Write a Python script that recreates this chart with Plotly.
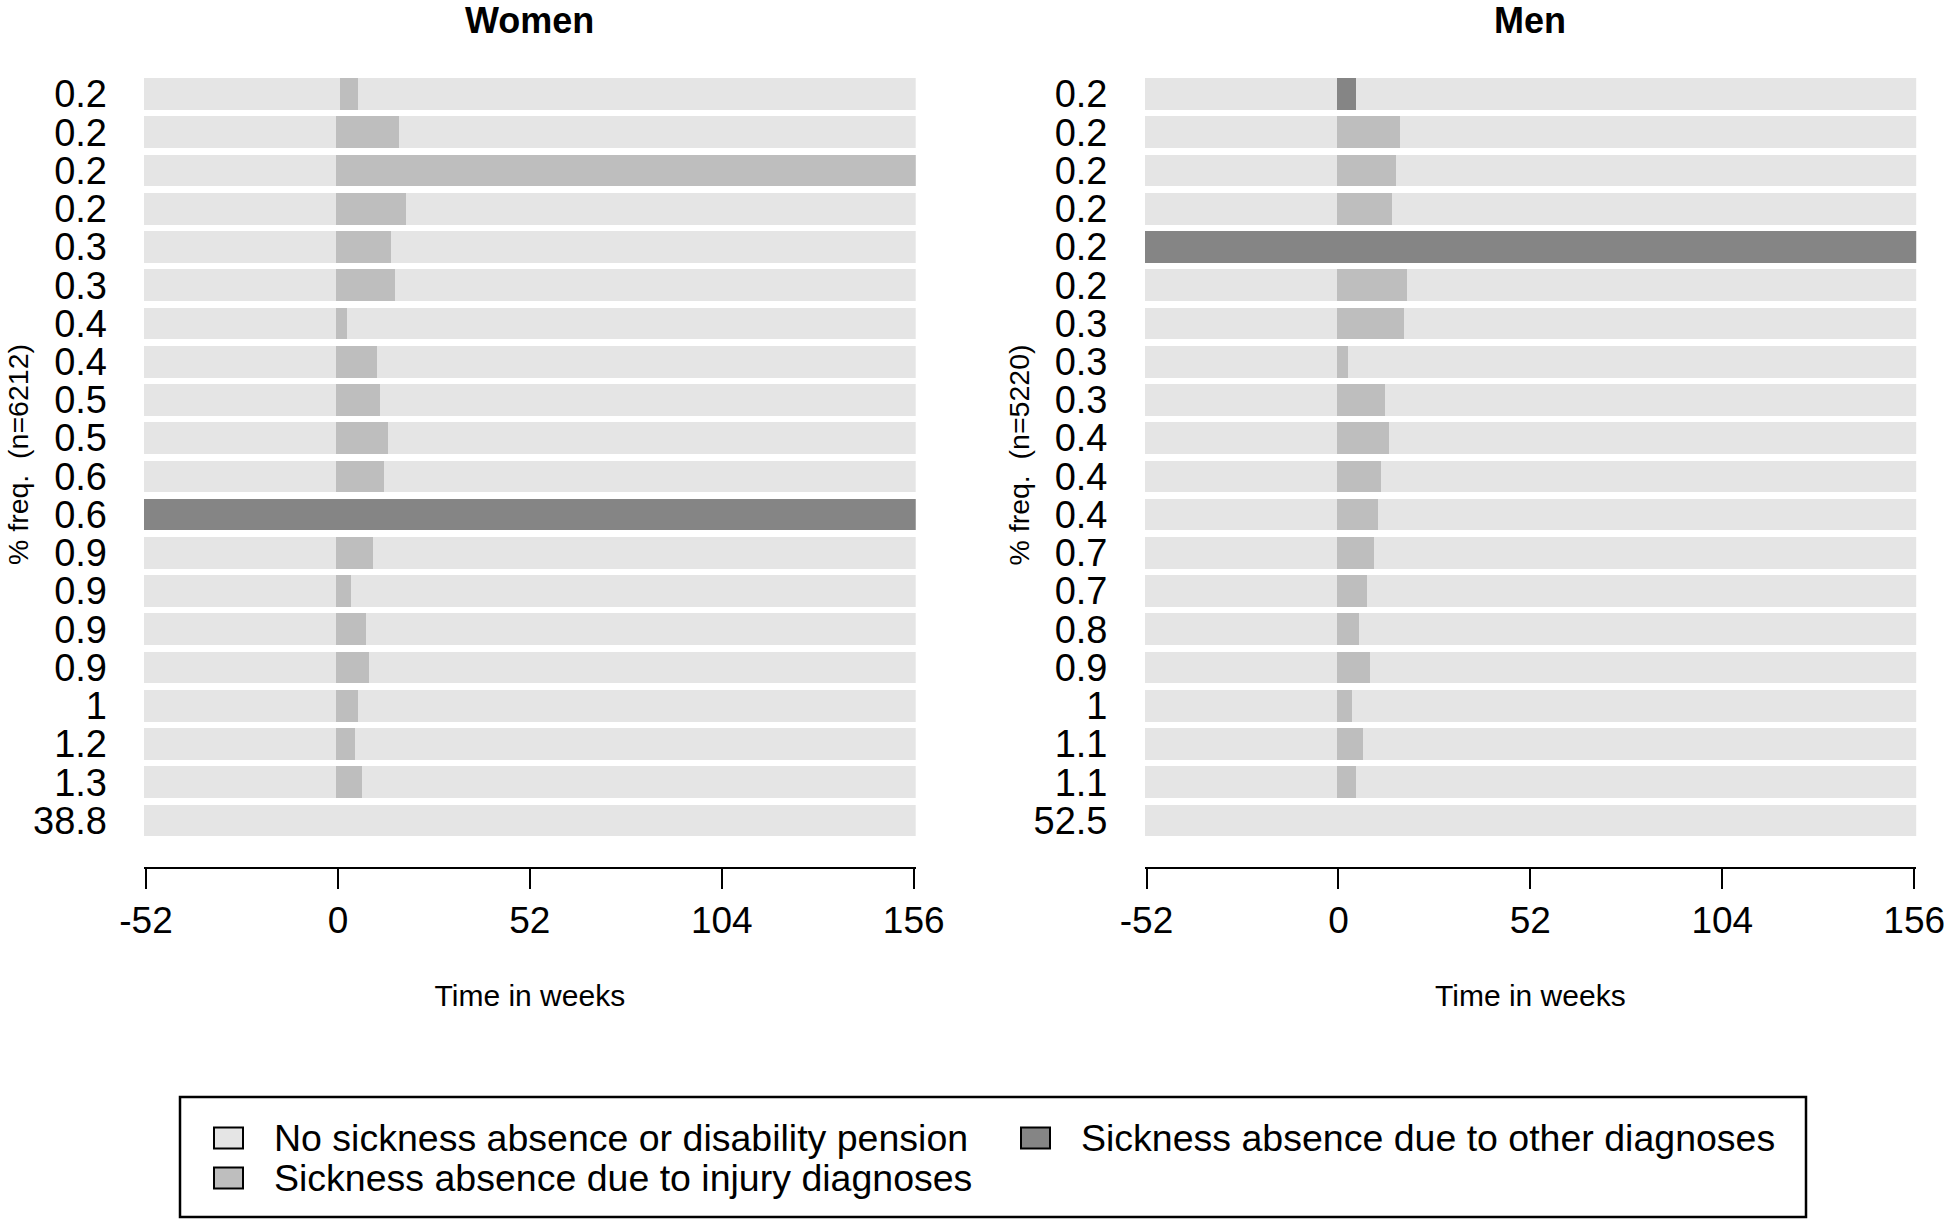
import plotly.graph_objects as go

# ---------------- data ----------------
weeks_first = -52
weeks_last = 156
x_tick_values = [-52, 0, 52, 104, 156]

state_names = [
    "No sickness absence or disability pension",
    "Sickness absence due to injury diagnoses",
    "Sickness absence due to other diagnoses",
]
state_colors = ["#E5E5E5", "#BEBEBE", "#858585"]

# Women (n=6212): sequence frequency (%) and spells (first week, last week)
women_n = 6212
women_freq = ["0.2", "0.2", "0.2", "0.2", "0.3", "0.3", "0.4", "0.4", "0.5", "0.5",
              "0.6", "0.6", "0.9", "0.9", "0.9", "0.9", "1", "1.2", "1.3", "38.8"]
women_injury_start = [1, 0, 0, 0, 0, 0, 0, 0, 0, 0,
                      0, None, 0, 0, 0, 0, 0, 0, 0, None]
women_injury_end = [5, 16, 156, 18, 14, 15, 2, 10, 11, 13,
                    12, None, 9, 3, 7, 8, 5, 4, 6, None]
women_other_start = [None, None, None, None, None, None, None, None, None, None,
                     None, -52, None, None, None, None, None, None, None, None]
women_other_end = [None, None, None, None, None, None, None, None, None, None,
                   None, 156, None, None, None, None, None, None, None, None]

# Men (n=5220)
men_n = 5220
men_freq = ["0.2", "0.2", "0.2", "0.2", "0.2", "0.2", "0.3", "0.3", "0.3", "0.4",
            "0.4", "0.4", "0.7", "0.7", "0.8", "0.9", "1", "1.1", "1.1", "52.5"]
men_injury_start = [None, 0, 0, 0, None, 0, 0, 0, 0, 0,
                    0, 0, 0, 0, 0, 0, 0, 0, 0, None]
men_injury_end = [None, 16, 15, 14, None, 18, 17, 2, 12, 13,
                  11, 10, 9, 7, 5, 8, 3, 6, 4, None]
men_other_start = [0, None, None, None, -52, None, None, None, None, None,
                   None, None, None, None, None, None, None, None, None, None]
men_other_end = [4, None, None, None, 156, None, None, None, None, None,
                 None, None, None, None, None, None, None, None, None, None]

# ---------------- layout constants (pixels) ----------------
W, H = 1944, 1222
FONT = "Liberation Sans, Arial, sans-serif"
BAR_W = 0.83


def px_x(p):
    return p / W


def px_y(p):
    return 1 - p / H


fig = go.Figure()


def add_panel(freq, inj_s, inj_e, oth_s, oth_e, xa, ya):
    rows = list(range(len(freq)))
    n = len(rows)
    # whole observation window in the "no sickness absence" state (drawn beneath)
    fig.add_trace(go.Bar(
        orientation="h", y=rows,
        base=[weeks_first - 0.5] * n,
        x=[weeks_last - weeks_first + 1] * n,
        width=BAR_W, marker=dict(color=state_colors[0], line=dict(width=0)),
        name=state_names[0], showlegend=False, xaxis=xa, yaxis=ya))
    for starts, ends, ci in ((inj_s, inj_e, 1), (oth_s, oth_e, 2)):
        ry, rb, rx = [], [], []
        for r, s, e in zip(rows, starts, ends):
            if s is None:
                continue
            ry.append(r)
            rb.append(s - 0.5)
            rx.append(e - s + 1)
        fig.add_trace(go.Bar(
            orientation="h", y=ry, base=rb, x=rx,
            width=BAR_W, marker=dict(color=state_colors[ci], line=dict(width=0)),
            name=state_names[ci], showlegend=False, xaxis=xa, yaxis=ya))


add_panel(women_freq, women_injury_start, women_injury_end,
          women_other_start, women_other_end, "x", "y")
add_panel(men_freq, men_injury_start, men_injury_end,
          men_other_start, men_other_end, "x2", "y2")

y_dom = [px_y(866.7), px_y(75)]
y_range = [20.21, -0.5]


def xaxis_cfg(dom):
    return dict(
        domain=dom, range=[weeks_first - 0.55, weeks_last + 0.55],
        automargin=False,
        tickvals=x_tick_values, ticktext=[str(v) for v in x_tick_values],
        ticks="outside", ticklen=20, tickwidth=2, tickcolor="black",
        showline=True, linewidth=2, linecolor="black",
        showgrid=False, zeroline=False,
        tickfont=dict(family=FONT, size=37, color="black"),
        ticklabelstandoff=0, ticklabeloverflow="allow",
        title=dict(text="Time in weeks", font=dict(family=FONT, size=30, color="black"),
                   standoff=45),
    )


def yaxis_cfg(anchor, labels):
    return dict(
        domain=y_dom, range=y_range, anchor=anchor,
        automargin=False,
        tickvals=list(range(len(labels))), ticktext=labels,
        ticks="", showline=False, showgrid=False, zeroline=False,
        tickfont=dict(family=FONT, size=38, color="black"),
        ticklabelstandoff=36,
    )


fig.update_layout(
    width=W, height=H,
    margin=dict(l=0, r=0, t=0, b=0, autoexpand=False),
    paper_bgcolor="white", plot_bgcolor="white",
    barmode="overlay", bargap=0,
    xaxis=xaxis_cfg([px_x(144), px_x(915.7)]) | dict(anchor="y"),
    xaxis2=xaxis_cfg([px_x(1144.5), px_x(1916.2)]) | dict(anchor="y2"),
    yaxis=yaxis_cfg("x", women_freq),
    yaxis2=yaxis_cfg("x2", men_freq),
    showlegend=False,
)

# panel titles and y-axis titles
for text, dom, n_label in (("Women", [144, 915.7], women_n), ("Men", [1144.5, 1916.2], men_n)):
    fig.add_annotation(text="<b>" + text + "</b>", x=px_x((dom[0] + dom[1]) / 2), y=px_y(21),
                       xref="paper", yref="paper", showarrow=False,
                       xanchor="center", yanchor="middle",
                       font=dict(family=FONT, size=36, color="black"))
    fig.add_annotation(text="% freq.\u00a0 (n=" + str(n_label) + ")",
                       x=px_x(dom[0] - 126), y=px_y(455), textangle=-90,
                       xref="paper", yref="paper", showarrow=False,
                       xanchor="center", yanchor="middle",
                       font=dict(family=FONT, size=28.5, color="black"))

# legend box
fig.add_shape(type="rect", xref="paper", yref="paper",
              x0=px_x(180), x1=px_x(1806), y0=px_y(1217), y1=px_y(1097),
              line=dict(color="black", width=2.5), fillcolor="rgba(0,0,0,0)")
legend_pos = [(214, 1138), (214, 1178), (1021, 1138)]
for (lx, ly), name, col in zip(legend_pos, state_names, state_colors):
    fig.add_shape(type="rect", xref="paper", yref="paper",
                  x0=px_x(lx), x1=px_x(lx + 29), y0=px_y(ly + 10.5), y1=px_y(ly - 10.5),
                  line=dict(color="black", width=2), fillcolor=col)
    fig.add_annotation(text=name, x=px_x(lx + 58), y=px_y(ly),
                       xref="paper", yref="paper", showarrow=False,
                       xanchor="left", yanchor="middle",
                       font=dict(family=FONT, size=37.5, color="black"))

fig.write_html("out.html", config={"displayModeBar": False},
               post_script="document.body.style.margin='0';document.body.style.overflow='hidden';")
